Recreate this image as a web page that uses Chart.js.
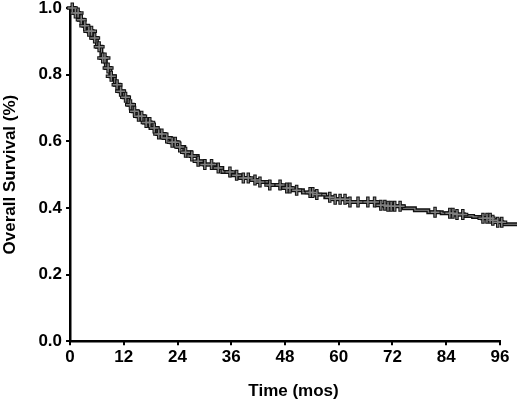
<!DOCTYPE html>
<html>
<head>
<meta charset="utf-8">
<script src="https://cdn.jsdelivr.net/npm/chart.js@4/dist/chart.umd.min.js"></script>
<style>
  html, body { margin: 0; padding: 0; background: #fff; overflow: hidden; }
  #wrap { position: relative; width: 520px; height: 404px; }
  #survivalChart { display: block; }
</style>
</head>
<body>
<div id="wrap"><canvas id="survivalChart"></canvas></div>
<script>
// Kaplan-Meier step points (months, survival)
const stepTimes = [0, 1, 2, 3, 4, 5, 6, 7, 8, 9, 10, 11, 12, 13, 14, 15, 16.5, 18, 19.5, 21,
  22.5, 24, 25.5, 27, 28.5, 30, 32, 34, 36, 38, 40, 42, 44.5, 47, 49.5, 52, 54.5, 57, 59, 62,
  68.5, 71, 74.5, 77, 80, 83, 86, 88, 90, 92, 94, 95.5, 96.5, 99.8];
const stepSurvival = [1.0, 0.985, 0.965, 0.947, 0.93, 0.91, 0.884, 0.85, 0.82, 0.795, 0.77, 0.75,
  0.732, 0.71, 0.69, 0.675, 0.656, 0.64, 0.622, 0.61, 0.597, 0.583, 0.567, 0.556, 0.54, 0.53,
  0.52, 0.508, 0.498, 0.49, 0.484, 0.478, 0.469, 0.46, 0.453, 0.446, 0.44, 0.432, 0.426, 0.418,
  0.408, 0.405, 0.399, 0.393, 0.387, 0.384, 0.38, 0.376, 0.373, 0.369, 0.363, 0.357, 0.351, 0.351];

// censored observations (months)
const censorTimes = [0.5, 1.2, 1.8, 2.5, 3.3, 4.2, 4.8, 5.5, 6.5, 7.3, 7.8, 8.5, 9.2, 10.5, 11.3,
  12.4, 13.5, 14.4, 15.3, 16, 17, 17.8, 18.8, 19.8, 20.5, 21.6, 22.8, 23.5, 24.5, 25.8, 27.2,
  28.6, 30.1, 31.6, 33.1, 35.7, 37.2, 38.7, 39.8, 41.3, 42.4, 44.6, 46.9, 48.4, 49.1, 50.6,
  53.6, 54.2, 55.1, 58, 59.2, 60.3, 61.4, 62.5, 64.3, 66.5, 68, 69.4, 70.3, 71, 71.7, 72.5,
  73.7, 81.5, 84.8, 85.5, 86.4, 87.7, 92.2, 93.1, 93.8, 94.4, 95.5, 96.4];

const xTicks = [0, 12, 24, 36, 48, 60, 72, 84, 96];
const yTicks = [0, 0.2, 0.4, 0.6, 0.8, 1.0];
const xAxisEnd = 96;
const followUpEnd = 99.8;

const font = 'Liberation Sans, Arial, sans-serif';

function survivalAt(t) {
  let s = stepSurvival[0];
  for (let i = 0; i < stepTimes.length; i++) {
    if (stepTimes[i] <= t) s = stepSurvival[i];
  }
  return s;
}

const curve = stepTimes.map((t, i) => ({ x: t, y: stepSurvival[i] }));
const censored = censorTimes.map((t) => ({ x: t, y: survivalAt(t) }));

const axisFont = { family: font, size: 17, weight: 'bold' };

// x axis line stops at the last tick while the curve runs on past it
const shortXAxis = {
  id: 'shortXAxis',
  beforeDatasetsDraw(chart) {
    const { ctx, scales: { x, y } } = chart;
    const yPix = y.getPixelForValue(0);
    ctx.save();
    ctx.strokeStyle = '#000';
    ctx.lineWidth = 2.5;
    ctx.beginPath();
    ctx.moveTo(x.getPixelForValue(0) - 1, yPix);
    ctx.lineTo(x.getPixelForValue(xAxisEnd) + 1, yPix);
    ctx.stroke();
    ctx.restore();
  },
};

const noPadding = (axis) => {
  axis.paddingLeft = 0;
  axis.paddingRight = 0;
  axis.paddingTop = 0;
  axis.paddingBottom = 0;
};

new Chart(document.getElementById('survivalChart'), {
  type: 'scatter',
  data: {
    datasets: [
      {
        data: curve, showLine: true, stepped: true, borderColor: '#111', borderWidth: 4,
        pointRadius: 0, clip: false, order: 4,
      },
      {
        data: curve, showLine: true, stepped: true, borderColor: '#888', borderWidth: 1.2,
        pointRadius: 0, clip: false, order: 3,
      },
      {
        data: censored, showLine: false, pointStyle: 'cross', pointRadius: 5.5,
        borderColor: '#111', pointBorderWidth: 3.5, clip: false, order: 2,
      },
      {
        data: censored, showLine: false, pointStyle: 'cross', pointRadius: 4.5,
        borderColor: '#808080', pointBorderWidth: 1.5, clip: false, order: 1,
      },
    ],
  },
  plugins: [shortXAxis],
  options: {
    responsive: true,
    maintainAspectRatio: false,
    animation: false,
    layout: { autoPadding: false, padding: { top: 8, right: 3, left: 0, bottom: 2 } },
    plugins: { legend: { display: false }, tooltip: { enabled: false } },
    scales: {
      x: {
        type: 'linear',
        min: 0,
        max: followUpEnd,
        afterBuildTicks: (axis) => { axis.ticks = xTicks.map((v) => ({ value: v })); },
        afterFit: noPadding,
        ticks: { font: axisFont, color: '#000', padding: 2, maxRotation: 0 },
        grid: { drawOnChartArea: false, drawTicks: true, tickLength: 4, color: '#000', lineWidth: 2 },
        border: { display: false },
        title: { display: true, text: 'Time (mos)', font: axisFont, color: '#000', padding: { top: 12, bottom: 0 } },
      },
      y: {
        min: 0,
        max: 1,
        afterBuildTicks: (axis) => { axis.ticks = yTicks.map((v) => ({ value: v })); },
        afterFit: noPadding,
        ticks: { font: { ...axisFont, lineHeight: 1 }, color: '#000', padding: 4, callback: (v) => v.toFixed(1) },
        grid: { drawOnChartArea: false, drawTicks: true, tickLength: 4, color: '#000', lineWidth: 2 },
        border: { color: '#000', width: 2.5 },
        title: { display: true, text: 'Overall Survival (%)', font: axisFont, color: '#000', padding: { top: 0, bottom: 14 } },
      },
    },
  },
});
</script>
</body>
</html>
